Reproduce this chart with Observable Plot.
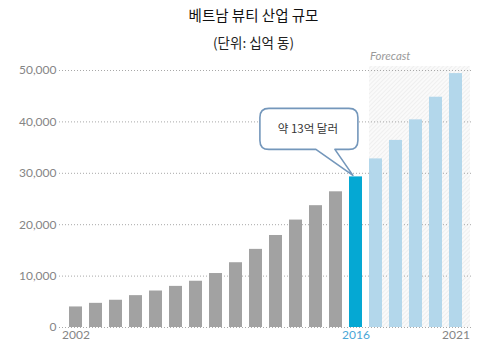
<!DOCTYPE html>
<html>
<head>
<meta charset="utf-8">
<script src="https://cdn.jsdelivr.net/npm/d3@7"></script>
<script src="https://cdn.jsdelivr.net/npm/@observablehq/plot@0.6"></script>
<style>
  html, body { margin: 0; padding: 0; background: #fff; }
  #wrap { position: relative; width: 489px; height: 351px; overflow: hidden; }
  .title { position: absolute; left: 9px; width: 489px; text-align: center;
           font-family: "Noto Sans CJK KR", sans-serif; color: #111; }
  #t1 { top: 4px; font-size: 14.5px; line-height: 22px; }
  #t2 { top: 31px; font-size: 13.5px; line-height: 22px; color: #222; }
  #chart { position: absolute; top: 55px; left: 0; }
</style>
</head>
<body>
<div id="wrap">
  <div class="title" id="t1">베트남 뷰티 산업 규모</div>
  <div class="title" id="t2">(단위: 십억 동)</div>
  <div id="chart"></div>
</div>
<script>
const years = ["2002","2003","2004","2005","2006","2007","2008","2009","2010","2011",
               "2012","2013","2014","2015","2016","2017","2018","2019","2020","2021"];
const values = [4000, 4700, 5300, 6200, 7100, 8000, 9000, 10500, 12600, 15200,
                17900, 20900, 23700, 26400, 29300, 32800, 36400, 40400, 44800, 49400];
const highlightYear = "2016";
const forecastYears = ["2017","2018","2019","2020","2021"];
const yTicks = [0, 10000, 20000, 30000, 40000, 50000];
const xLabels = ["2002", "2016", "2021"];
const calloutText = "약 13억 달러";
const forecastLabel = "Forecast";

const GRAY = "#a2a2a2", BLUE = "#05a8d3", LIGHT = "#b3d7eb", TICK = "#858585";

const data = years.map((year, i) => ({
  year, value: values[i],
  color: year === highlightYear ? BLUE : forecastYears.includes(year) ? LIGHT : GRAY
}));

function bw(x) { return x.bandwidth ? x.bandwidth() : 13.7; }
function stp(x) { return x.step ? x.step() : 20.4; }

// hatched forecast background
function forecastShade(index, scales) {
  const x = scales.x, y = scales.y;
  const x0 = x(forecastYears[0]);
  const x1 = x(forecastYears[forecastYears.length - 1]) + bw(x) + stp(x) * 0.4;
  const y0 = y(yTicks[yTicks.length - 1]) - 4, y1 = y(0);
  const g = d3.create("svg:g");
  const pat = g.append("defs").append("pattern")
    .attr("id", "hatch").attr("patternUnits", "userSpaceOnUse")
    .attr("width", 3).attr("height", 3).attr("patternTransform", "rotate(45)");
  pat.append("rect").attr("width", 3).attr("height", 3).attr("fill", "#fafafa");
  pat.append("line").attr("x1", 0).attr("y1", 0).attr("x2", 0).attr("y2", 3)
    .attr("stroke", "#e6e6e6").attr("stroke-width", 1.1);
  g.append("rect").attr("x", x0).attr("y", y0).attr("width", x1 - x0).attr("height", y1 - y0)
    .attr("fill", "url(#hatch)");
  g.append("text").attr("x", x0 + 1).attr("y", y0 - 6).attr("text-anchor", "start")
    .attr("font-family", "Lato, sans-serif").attr("font-style", "italic")
    .attr("font-size", 11.5).attr("fill", "#9a9a9a").text(forecastLabel);
  return g.node();
}

// callout bubble pointing at highlighted bar
function callout(index, scales) {
  const x = scales.x, y = scales.y;
  const v = values[years.indexOf(highlightYear)];
  const tx = x(highlightYear) + bw(x) * 0.3, ty = y(v) - 1;
  const L = tx - 93, R = tx + 5, T = ty - 67, B = ty - 26, r = 9;
  const path = `M${L + r},${T} H${R - r} Q${R},${T} ${R},${T + r} V${B - r} Q${R},${B} ${R - r},${B}
    H${tx - 18} L${tx},${ty} L${tx - 37},${B} H${L + r} Q${L},${B} ${L},${B - r} V${T + r} Q${L},${T} ${L + r},${T} Z`;
  const g = d3.create("svg:g");
  g.append("path").attr("d", path).attr("fill", "#fff").attr("stroke", "#7497bb")
    .attr("stroke-width", 1.6).attr("stroke-linejoin", "round");
  g.append("text").attr("x", (L + R) / 2 - 1).attr("y", (T + B) / 2 + 1)
    .attr("text-anchor", "middle").attr("dominant-baseline", "middle")
    .attr("font-family", "'Noto Sans CJK KR', sans-serif").attr("font-size", 11.5)
    .attr("fill", "#333").text(calloutText);
  return g.node();
}

const chart = Plot.plot({
  width: 489,
  height: 296,
  marginLeft: 59,
  marginRight: 16,
  marginTop: 15,
  marginBottom: 24,
  x: { type: "band", domain: years, paddingInner: 0.33, paddingOuter: 0.33, axis: null },
  y: { domain: [0, 50000], axis: null },
  color: { type: "identity" },
  style: { fontFamily: "Lato, sans-serif", background: "transparent", overflow: "visible" },
  marks: [
    forecastShade,
    Plot.gridY(yTicks, { stroke: "#a8a8a8", strokeOpacity: 1, strokeDasharray: "1,2" }),
    Plot.axisY(yTicks, { tickSize: 0, tickPadding: 3, tickFormat: d3.format(","),
                         fill: TICK, fontSize: 12, label: null }),
    Plot.barY(data, { x: "year", y: "value", fill: "color" }),
    Plot.text(xLabels, { x: d => d, frameAnchor: "bottom", dy: 11, fontSize: 12,
                         fill: d => d === highlightYear ? "#4aa6d6" : TICK }),
    callout
  ]
});
document.getElementById("chart").appendChild(chart);
</script>
</body>
</html>
